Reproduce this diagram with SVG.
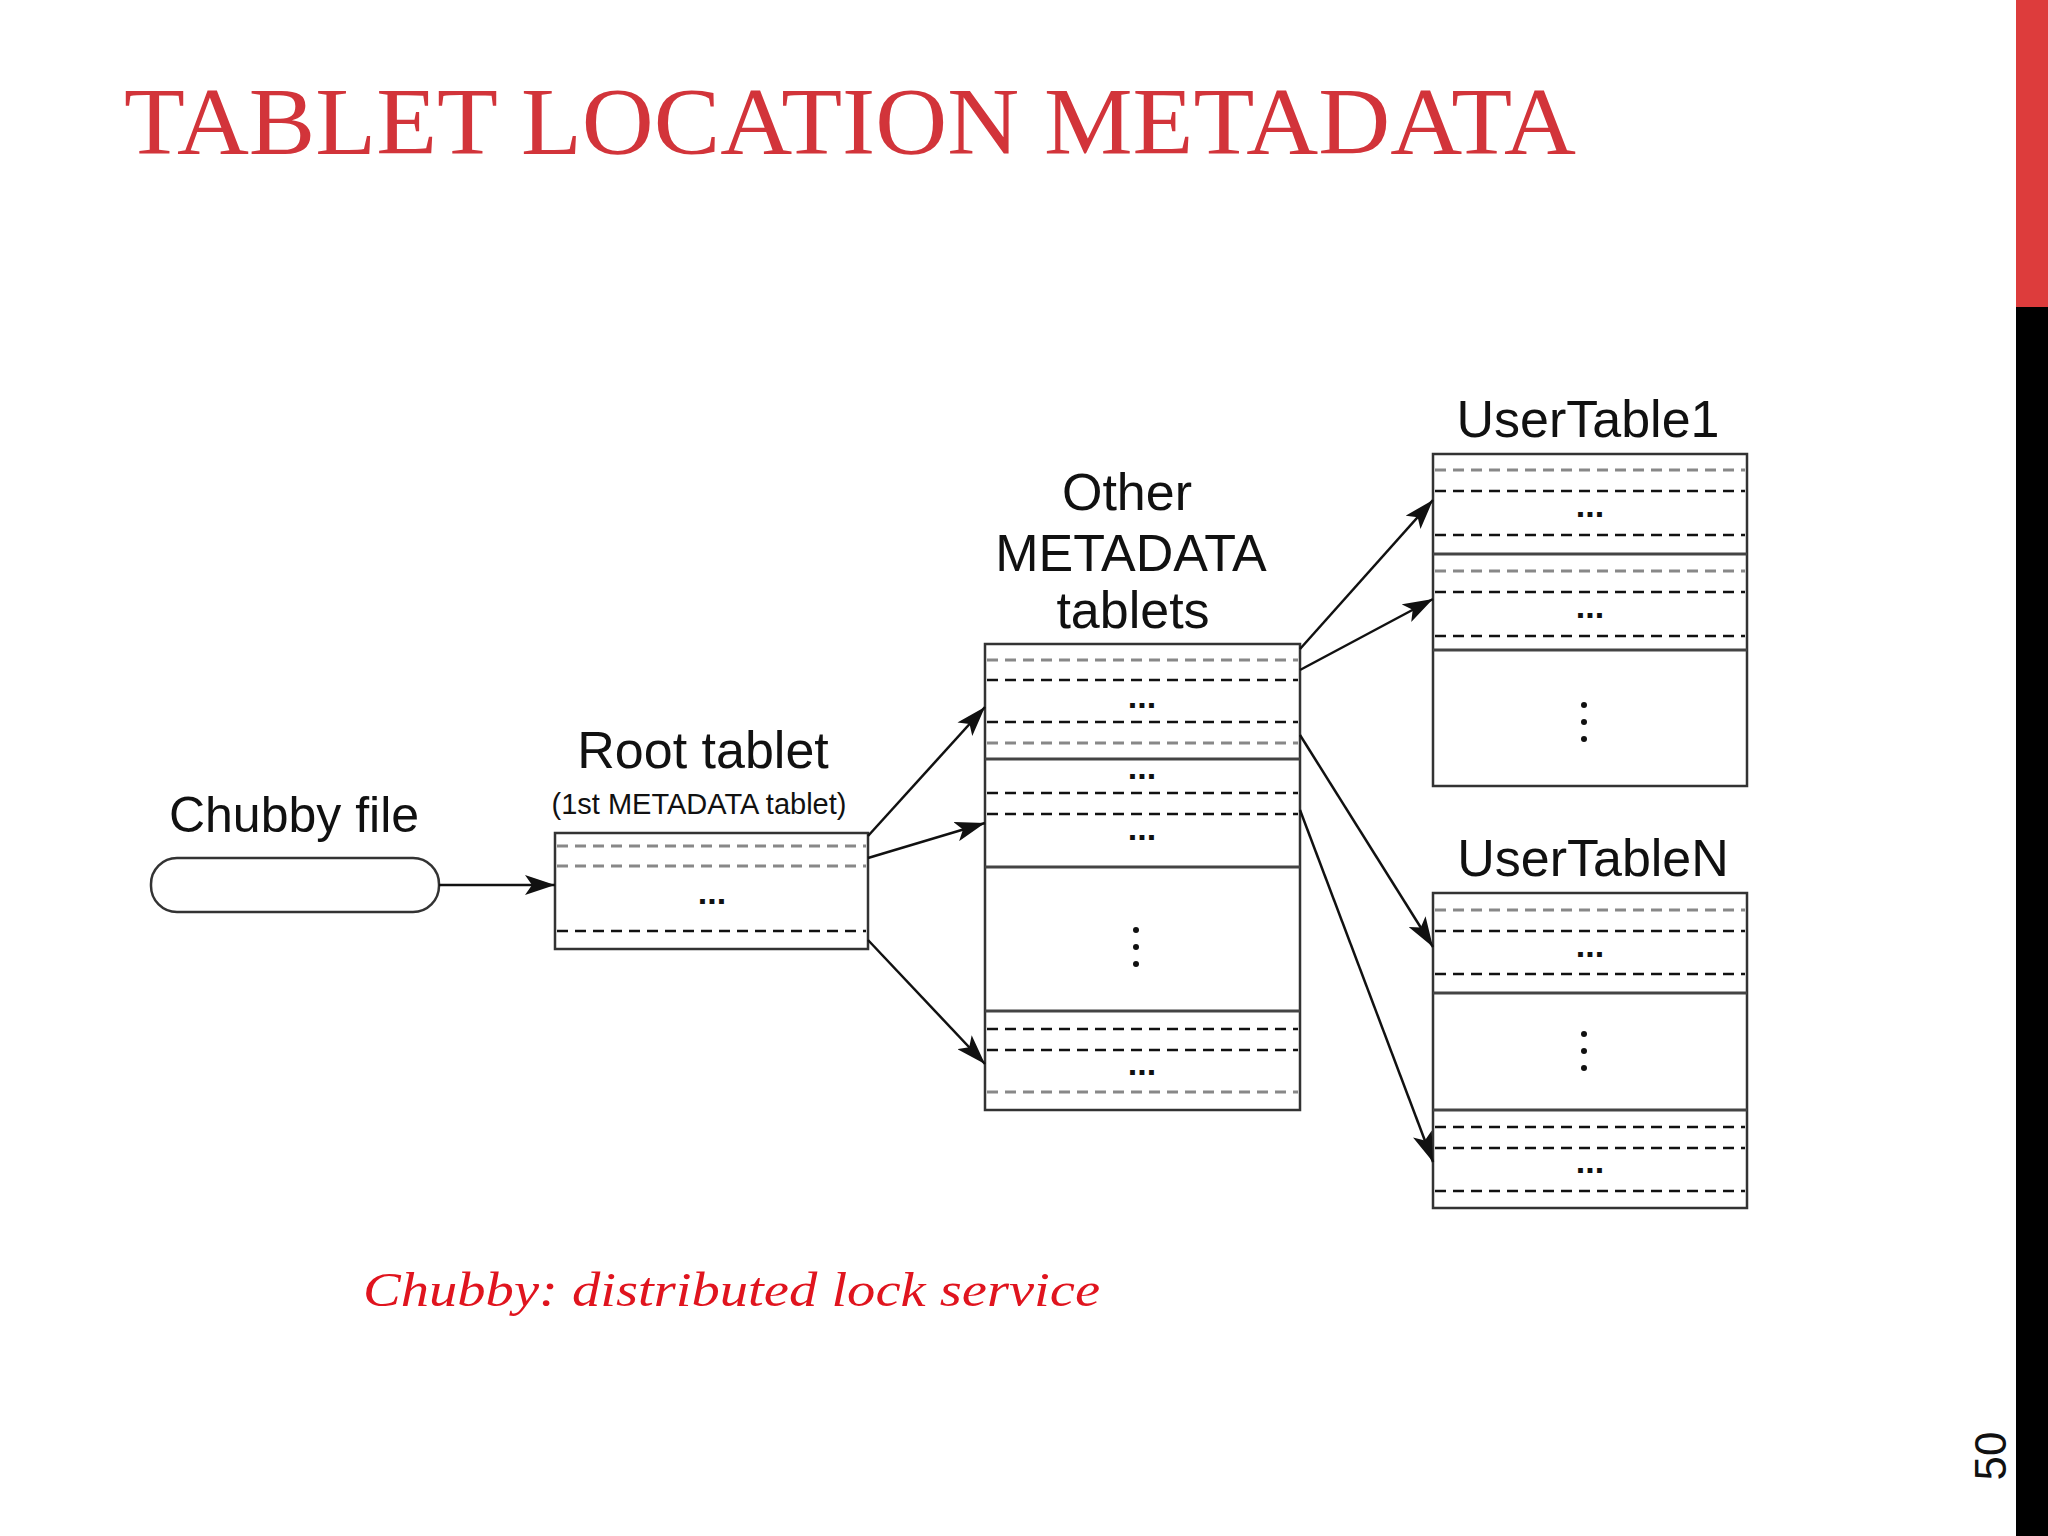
<svg xmlns="http://www.w3.org/2000/svg" width="2048" height="1536" viewBox="0 0 2048 1536">
<defs>
<marker id="ah" viewBox="0 0 12 10" refX="12" refY="5" markerWidth="12" markerHeight="10" markerUnits="userSpaceOnUse" orient="auto"><path d="M0,0 L12,5 L0,10 L3,5 z" fill="#111"/></marker>
<marker id="a2" viewBox="0 0 30 20" refX="30" refY="10" markerWidth="30" markerHeight="20" markerUnits="userSpaceOnUse" orient="auto"><path d="M0,0 L30,10 L0,20 L7,10 z" fill="#111"/></marker>
</defs>
<style>
.lbl{font-family:"Liberation Sans",Arial,sans-serif;fill:#111;text-anchor:middle}
.box{fill:#fff;stroke:#333;stroke-width:2.5}
.sep{stroke:#444;stroke-width:3}
.d{stroke:#111;stroke-width:2.5;stroke-dasharray:11 7}
.g{stroke:#888;stroke-width:3;stroke-dasharray:11 7}
.dots{font-family:"Liberation Sans",Arial,sans-serif;font-size:34px;font-weight:bold;fill:#111;text-anchor:middle}
.vd{fill:#111}
.c{stroke:#111;stroke-width:2.5;fill:none;marker-end:url(#a2)}
</style>
<rect width="2048" height="1536" fill="#fff"/>
<rect x="2016" y="0" width="32" height="307" fill="#dd3c3c"/>
<rect x="2016" y="307" width="32" height="1229" fill="#000"/>
<text x="124" y="154" font-family="Liberation Serif,serif" font-size="96" fill="#d2343a" textLength="1452" lengthAdjust="spacingAndGlyphs">TABLET LOCATION METADATA</text>
<text transform="translate(2006,1456) rotate(-90)" font-family="Liberation Sans,sans-serif" font-size="44" fill="#111" text-anchor="middle">50</text>

<g id="chubby">
<text class="lbl" x="294" y="832" font-size="50">Chubby file</text>
<rect x="151" y="858" width="288" height="54" rx="26" fill="#fff" stroke="#333" stroke-width="2.5"/>
</g>
<g id="root">
<text class="lbl" x="703" y="768" font-size="52">Root tablet</text>
<text class="lbl" x="699" y="814" font-size="29">(1st METADATA tablet)</text>
<rect class="box" x="555" y="833" width="313" height="116"/>
<line class="g" x1="557" y1="846" x2="866" y2="846"/><line class="g" x1="557" y1="866" x2="866" y2="866"/><line class="d" x1="557" y1="931" x2="866" y2="931"/>
<text class="dots" x="712" y="904">...</text>
</g>
<g id="meta">
<text class="lbl" x="1127" y="510" font-size="52">Other</text>
<text class="lbl" x="1131" y="571" font-size="52">METADATA</text>
<text class="lbl" x="1133" y="628" font-size="52">tablets</text>
<rect class="box" x="985" y="644" width="315" height="466"/>
<line class="sep" x1="985" y1="759" x2="1300" y2="759"/><line class="sep" x1="985" y1="867" x2="1300" y2="867"/><line class="sep" x1="985" y1="1011" x2="1300" y2="1011"/>
<line class="g" x1="987" y1="660" x2="1298" y2="660"/><line class="d" x1="987" y1="680" x2="1298" y2="680"/><line class="d" x1="987" y1="722" x2="1298" y2="722"/><line class="g" x1="987" y1="743" x2="1298" y2="743"/>
<line class="d" x1="987" y1="793" x2="1298" y2="793"/><line class="d" x1="987" y1="814" x2="1298" y2="814"/>
<line class="d" x1="987" y1="1029" x2="1298" y2="1029"/><line class="d" x1="987" y1="1050" x2="1298" y2="1050"/><line class="g" x1="987" y1="1092" x2="1298" y2="1092"/>
<text class="dots" x="1142" y="708">...</text><text class="dots" x="1142" y="779">...</text><text class="dots" x="1142" y="840">...</text><text class="dots" x="1142" y="1075">...</text>
<circle class="vd" cx="1136" cy="930" r="3"/><circle class="vd" cx="1136" cy="947" r="3"/><circle class="vd" cx="1136" cy="964" r="3"/>
</g>
<g id="ut1">
<text class="lbl" x="1588" y="437" font-size="52">UserTable1</text>
<rect class="box" x="1433" y="454" width="314" height="332"/>
<line class="sep" x1="1433" y1="554" x2="1747" y2="554"/><line class="sep" x1="1433" y1="650" x2="1747" y2="650"/>
<line class="g" x1="1435" y1="470" x2="1745" y2="470"/><line class="d" x1="1435" y1="491" x2="1745" y2="491"/><line class="d" x1="1435" y1="535" x2="1745" y2="535"/>
<line class="g" x1="1435" y1="571" x2="1745" y2="571"/><line class="d" x1="1435" y1="592" x2="1745" y2="592"/><line class="d" x1="1435" y1="636" x2="1745" y2="636"/>
<text class="dots" x="1590" y="517">...</text><text class="dots" x="1590" y="618">...</text>
<circle class="vd" cx="1584" cy="705" r="3"/><circle class="vd" cx="1584" cy="722" r="3"/><circle class="vd" cx="1584" cy="739" r="3"/>
</g>
<g id="utn">
<text class="lbl" x="1593" y="876" font-size="52">UserTableN</text>
<rect class="box" x="1433" y="893" width="314" height="315"/>
<line class="sep" x1="1433" y1="993" x2="1747" y2="993"/><line class="sep" x1="1433" y1="1110" x2="1747" y2="1110"/>
<line class="g" x1="1435" y1="910" x2="1745" y2="910"/><line class="d" x1="1435" y1="931" x2="1745" y2="931"/><line class="d" x1="1435" y1="974" x2="1745" y2="974"/>
<line class="d" x1="1435" y1="1127" x2="1745" y2="1127"/><line class="d" x1="1435" y1="1148" x2="1745" y2="1148"/><line class="d" x1="1435" y1="1191" x2="1745" y2="1191"/>
<text class="dots" x="1590" y="957">...</text><text class="dots" x="1590" y="1173">...</text>
<circle class="vd" cx="1584" cy="1034" r="3"/><circle class="vd" cx="1584" cy="1051" r="3"/><circle class="vd" cx="1584" cy="1068" r="3"/>
</g>
<g id="connectors">
<line class="c" x1="439" y1="885" x2="555" y2="885"/>
<line class="c" x1="868" y1="836" x2="985" y2="707"/>
<line class="c" x1="868" y1="858" x2="985" y2="823"/>
<line class="c" x1="868" y1="940" x2="985" y2="1064"/>
<line class="c" x1="1300" y1="649" x2="1433" y2="500"/>
<line class="c" x1="1300" y1="670" x2="1433" y2="599"/>
<line class="c" x1="1300" y1="735" x2="1433" y2="947"/>
<line class="c" x1="1300" y1="810" x2="1433" y2="1162"/>
</g>
<text x="363" y="1306" font-family="Liberation Serif,serif" font-style="italic" font-size="48" fill="#e0141e" textLength="737" lengthAdjust="spacingAndGlyphs">Chubby: distributed lock service</text>
</svg>
